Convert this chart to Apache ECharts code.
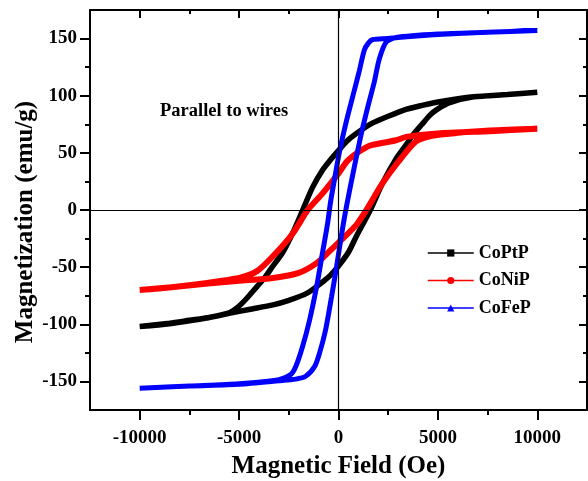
<!DOCTYPE html>
<html>
<head>
<meta charset="utf-8">
<script src="https://cdn.jsdelivr.net/npm/echarts@6/dist/echarts.min.js"></script>
<style>
  html, body { margin: 0; padding: 0; background: #fff; }
  #chart { width: 588px; height: 481px; }
</style>
</head>
<body>
<div id="chart"></div>
<script>
// tick positions
const fieldMajor = [-10000, -5000, 0, 5000, 10000];
const fieldMinor = [-7500, -2500, 2500, 7500];
const magMajor = [-150, -100, -50, 0, 50, 100, 150];
const magMinor = [-125, -75, -25, 25, 75, 125];

// [field (Oe), magnetization (emu/g)]
const coptpDown = [
  [10000, 103], [8500, 101], [6800, 99], [5000, 94.5], [4200, 91.5], [3400, 88],
  [2500, 82], [1700, 76], [900, 67], [400, 60], [0, 52], [-400, 44], [-800, 35],
  [-1300, 20], [-1800, 0], [-2300, -20], [-2800, -37], [-3300, -49], [-3700, -59],
  [-4100, -67], [-4600, -77], [-5000, -84], [-5500, -90], [-6500, -94],
  [-7500, -96.5], [-8500, -99], [-10000, -102]
];
const coptpUp = [
  [-10000, -102], [-8500, -99.5], [-7500, -97], [-6500, -94], [-5500, -90.5],
  [-4500, -87], [-3300, -83], [-2500, -79], [-1600, -73], [-800, -63], [-400, -57],
  [0, -49], [500, -37], [900, -23], [1600, 0], [2200, 23], [2900, 45], [3400, 57],
  [3800, 67], [4200, 75], [4600, 83], [5000, 88.5], [5600, 94], [6800, 99],
  [8500, 101], [10000, 103]
];
const conipDown = [
  [10000, 71], [7600, 69], [5000, 67], [3400, 64], [2900, 61], [1700, 57],
  [1300, 54], [900, 49.5], [400, 42], [0, 32], [-800, 14.5], [-1550, 0],
  [-2300, -20.5], [-3300, -40.5], [-4100, -53.5], [-5000, -59.5], [-6700, -64],
  [-8400, -67.5], [-10000, -70]
];
const conipUp = [
  [-10000, -70], [-8400, -67.5], [-6700, -64.5], [-5000, -62], [-3300, -59.5],
  [-2000, -55], [-1100, -46.5], [-450, -36], [0, -28.5], [900, -13], [1400, 0],
  [2200, 23], [3000, 42], [3900, 60], [4700, 65], [6000, 67.5], [7600, 69.5],
  [10000, 71]
];
const cofepDown = [
  [10000, 157], [7500, 155.5], [5000, 153.5], [3000, 151], [2500, 150],
  [1700, 149], [1500, 146], [1300, 140], [1050, 122], [800, 105], [400, 78],
  [50, 51], [-200, 27], [-400, 7], [-550, -12], [-800, -37], [-1100, -67],
  [-1450, -96], [-1800, -119], [-2150, -137], [-2400, -144], [-3000, -148.5],
  [-5000, -152], [-7500, -154], [-10000, -156]
];
const cofepUp = [
  [-10000, -156], [-7500, -154], [-5000, -152.5], [-3000, -149.5], [-2150, -148],
  [-1650, -145.5], [-1200, -137], [-950, -125], [-650, -105], [-350, -76],
  [-100, -50], [150, -22], [400, 3], [800, 38], [1150, 67], [1500, 92],
  [1800, 112], [2050, 132], [2400, 147], [2900, 151], [5000, 154],
  [7500, 155.5], [10000, 157]
];

const FONT = '"Liberation Serif", "Times New Roman", serif';
const INK = '#000';

// 下降支 + 上升支,去掉重复的拐点
const loop = (down, up) => down.concat(up.slice(1));

const tickStyle = { color: INK, width: 2 };
const lineStyle = { color: INK, width: 2 };
const labelFont = { color: INK, fontFamily: FONT, fontWeight: 'bold', fontSize: 19,
  formatter: v => String(v) };

function xAxisOf(position, values, length, inside, main) {
  return {
    type: 'value', position, min: -12500, max: 12500,
    axisLine: { show: main, onZero: false, lineStyle },
    axisTick: { show: true, inside, length, customValues: values, lineStyle: tickStyle },
    axisLabel: main && position === 'bottom'
      ? { customValues: values, margin: 19, ...labelFont }
      : { show: false },
    splitLine: { show: false },
    ...(main && position === 'bottom' ? {
      name: 'Magnetic Field (Oe)', nameLocation: 'middle', nameGap: 44,
      nameTextStyle: { color: INK, fontFamily: FONT, fontWeight: 'bold', fontSize: 25 },
    } : {}),
  };
}

function yAxisOf(position, values, length, inside, main) {
  return {
    type: 'value', position, min: -175, max: 175,
    axisLine: { show: main, onZero: false, lineStyle },
    axisTick: { show: true, inside, length, customValues: values, lineStyle: tickStyle },
    axisLabel: main && position === 'left'
      ? { customValues: values, margin: 13, ...labelFont }
      : { show: false },
    splitLine: { show: false },
  };
}

const chart = echarts.init(document.getElementById('chart'), null, { renderer: 'canvas' });

chart.setOption({
  animation: false,
  backgroundColor: '#fff',
  grid: { left: 90, right: 1, top: 10, bottom: 71, containLabel: false,
    outerBoundsMode: 'none' },
  xAxis: [
    xAxisOf('bottom', fieldMajor, 10, false, true),
    xAxisOf('bottom', fieldMinor, 5, false, false),
    xAxisOf('top', fieldMajor, 8, true, true),
    xAxisOf('top', fieldMinor, 4, true, false),
  ],
  yAxis: [
    yAxisOf('left', magMajor, 10, false, true),
    yAxisOf('left', magMinor, 5, false, false),
    yAxisOf('right', magMajor, 8, true, true),
    yAxisOf('right', magMinor, 4, true, false),
  ],
  legend: {
    orient: 'vertical', left: 422, top: 239,
    itemWidth: 46, itemHeight: 9, itemGap: 9.5,
    lineStyle: { width: 1.5 },
    textStyle: { color: INK, fontFamily: FONT, fontWeight: 'bold', fontSize: 18 },
    data: ['CoPtP', 'CoNiP', 'CoFeP'],
  },
  graphic: [
    {
      type: 'text', left: 160, top: 102,
      style: { text: 'Parallel to wires', fill: INK, font: 'bold 18.5px ' + FONT },
    },
    {
      type: 'text', x: 26, y: 222, rotation: Math.PI / 2,
      style: { text: 'Magnetization (emu/g)', fill: INK, font: 'bold 25px ' + FONT,
        align: 'center', verticalAlign: 'middle' },
    },
  ],
  series: [
    {
      name: 'CoPtP', type: 'line', data: loop(coptpDown, coptpUp),
      smooth: 0.25, symbol: 'rect', symbolSize: 6, showSymbol: false,
      lineStyle: { color: '#000', width: 5.5 }, itemStyle: { color: '#000' },
      markLine: {
        silent: true, symbol: 'none', label: { show: false },
        lineStyle: { color: INK, width: 1.2, type: 'solid' },
        data: [{ xAxis: 0 }, { yAxis: 0 }],
      },
    },
    {
      name: 'CoNiP', type: 'line', data: loop(conipDown, conipUp),
      smooth: 0.25, symbol: 'circle', symbolSize: 6, showSymbol: false,
      lineStyle: { color: '#ff0000', width: 6 }, itemStyle: { color: '#ff0000' },
    },
    {
      name: 'CoFeP', type: 'line', data: loop(cofepDown, cofepUp),
      smooth: 0.25, symbol: 'triangle', symbolSize: 7, showSymbol: false,
      lineStyle: { color: '#0000ff', width: 5 }, itemStyle: { color: '#0000ff' },
    },
  ],
});
</script>
</body>
</html>
